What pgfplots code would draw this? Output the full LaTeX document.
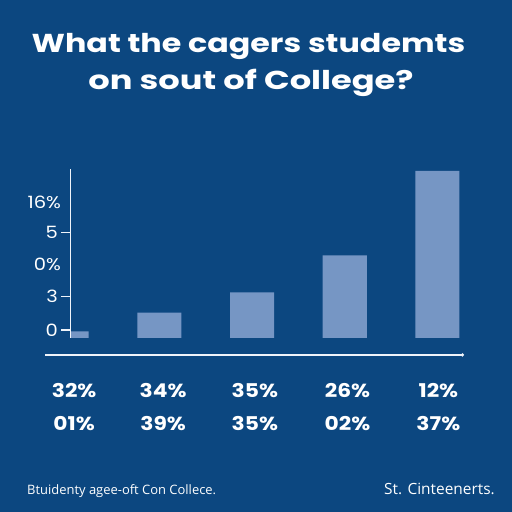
\documentclass[border=0pt]{standalone}
\usepackage{fontspec}
\setmainfont{Open Sans}
\newfontfamily\pop{Poppins}[FakeStretch=1.15]
\newfontfamily\popw{Poppins}[FakeStretch=1.225]
\newfontfamily\popx{Poppins}[FakeStretch=1.3]
\usepackage{pgfplots}
\pgfplotsset{compat=1.18}
\definecolor{bg}{RGB}{12,71,128}
\definecolor{barc}{RGB}{118,150,196}
\definecolor{fg}{RGB}{240,244,250}
\begin{document}
\begin{tikzpicture}[x=1bp,y=1bp]
\fill[bg] (0,0) rectangle (512,512);
\useasboundingbox (0,0) rectangle (512,512);
\node[anchor=base, text=white, font=\popw\fontsize{26}{30}\selectfont\bfseries] at (248.5,459) {What the cagers studemts};
\node[anchor=base, text=white, font=\popx\fontsize{26}{30}\selectfont\bfseries] at (251,422) {on sout of College?};
\node[anchor=base west, text=white, font=\fontsize{13}{16}\selectfont, inner sep=0pt] at (27,17) {Btuidenty agee-oft Con Collece.};
\node[anchor=base east, text=white, font=\fontsize{15.5}{18}\selectfont, inner sep=0pt] at (495,17) {St. Cinteenerts.};
\begin{axis}[
  at={(76,157)}, anchor=south west,
  scale only axis, width=392bp, height=186bp,
  xmin=0.04, xmax=4.27, ymin=-17, ymax=169,
  axis lines=left, axis line style={draw=none},
  clip mode=individual,
  xtick={0.08,1.04,2.03,3.03,4.01},
  xticklabels={{32\%\\01\%},{34\%\\39\%},{35\%\\35\%},{26\%\\02\%},{12\%\\37\%}},
  xtick style={draw=none},
  xticklabel style={align=center, text=white, font=\pop\fontsize{19}{33}\selectfont\bfseries, yshift=-16bp},
  ytick={8,41.3,105.7}, yticklabels={0,3,5},
  extra y ticks={73.7,135.3}, extra y tick labels={0\%,16\%},
  extra y tick style={major tick length=0pt, yticklabel style={xshift=-6bp}},
  tick align=outside, major tick length=9bp,
  ytick style={fg, line width=1.5bp},
  yticklabel style={text=white, font=\pop\fontsize{17}{20}\selectfont},
]
\addplot[ybar, bar width=0.475, bar shift=0pt, fill=barc, draw=none] coordinates {(0,6.7) (1,25.3) (2,45.7) (3,82.7) (4,167)};
\draw[fg, line width=1.8bp] (axis cs:0.04,0) -- (axis cs:0.04,169);
\draw[fg, line width=1.8bp] (axis cs:-0.23,-17) -- (axis cs:4.27,-17);
\fill[fg] (axis cs:4.27,-17) circle (1.8bp);
\end{axis}
\end{tikzpicture}
\end{document}
